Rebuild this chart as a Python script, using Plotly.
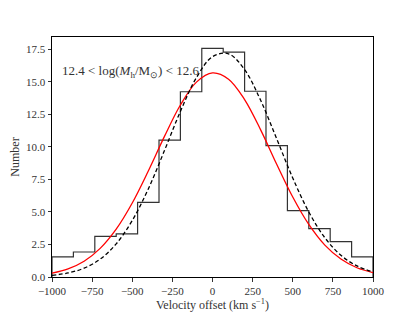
import plotly.graph_objects as go

# Histogram (15 bins from -1000 to 1000)
bin_edges = [-1000, -866.7, -733.3, -600, -466.7, -333.3, -200, -66.7, 66.7,
             200, 333.3, 466.7, 600, 733.3, 866.7, 1000]
counts = [1.54, 1.92, 3.13, 3.31, 5.74, 10.52, 14.24, 17.57, 17.29,
          14.28, 10.1, 5.10, 3.72, 2.72, 1.54]

# Fitted curves
curve_x = [-1000, -900, -800, -700, -600, -500, -400, -300, -200, -100, 0,
           100, 200, 300, 400, 500, 600, 700, 800, 900, 1000]
black_y = [0.13, 0.31, 0.68, 1.37, 2.55, 4.34, 6.77, 9.70, 12.73, 15.33, 16.94,
           17.16, 15.94, 13.58, 10.62, 7.61, 5.00, 3.02, 1.67, 0.85, 0.39]
red_y = [0.29, 0.62, 1.21, 2.20, 3.68, 5.69, 8.15, 10.79, 13.22, 14.98, 15.69,
         15.21, 13.64, 11.31, 8.67, 6.15, 4.04, 2.45, 1.38, 0.71, 0.34]

x_ticks = [-1000, -750, -500, -250, 0, 250, 500, 750, 1000]
y_ticks = [0.0, 2.5, 5.0, 7.5, 10.0, 12.5, 15.0, 17.5]

FONT = "Liberation Serif"

step_x = [bin_edges[0]] + bin_edges + [bin_edges[-1]]
step_y = [0] + counts + [counts[-1], 0]

fig = go.Figure()
fig.add_trace(go.Scatter(x=step_x, y=step_y, mode="lines", line_shape="hv",
                         line=dict(color="#333333", width=1.2), showlegend=False))
fig.add_trace(go.Scatter(x=curve_x, y=red_y, mode="lines", line_shape="spline",
                         line=dict(color="red", width=1.3), showlegend=False))
fig.add_trace(go.Scatter(x=curve_x, y=black_y, mode="lines", line_shape="spline",
                         line=dict(color="black", width=1.3, dash="4px,2.5px"),
                         showlegend=False))

fig.add_annotation(x=-950, y=15.8, xref="x", yref="y", xanchor="left", yanchor="middle",
                   align="left",
                   text="12.4 &lt; log(<i>M</i><sub>h</sub>/M<sub>⊙</sub>) &lt; 12.6",
                   showarrow=False, font=dict(family=FONT, size=13, color="#333333"))

axis_common = dict(showgrid=False, zeroline=False, showline=True, linecolor="black",
                   linewidth=1, mirror=True, ticks="outside", ticklen=3.5,
                   tickwidth=1, tickcolor="#333333", automargin=False,
                   tickfont=dict(family=FONT, size=11, color="#333333"))

fig.update_layout(
    template="none",
    width=407, height=304,
    margin=dict(l=44, r=42, t=29, b=35),
    paper_bgcolor="white", plot_bgcolor="white",
    xaxis=dict(range=[-1000, 1000], tickvals=x_ticks,
               ticktext=[("−" + str(abs(v))) if v < 0 else str(v) for v in x_ticks],
               title=dict(text="Velocity offset (km s<sup>−1</sup>)", standoff=6,
                          font=dict(family=FONT, size=12, color="#333333")),
               **axis_common),
    yaxis=dict(range=[0, 18.45], tickvals=y_ticks,
               ticktext=[f"{v:.1f}" for v in y_ticks],
               title=dict(text="Number", standoff=7,
                          font=dict(family=FONT, size=12, color="#333333")),
               **axis_common),
)

fig.write_html("out.html")
